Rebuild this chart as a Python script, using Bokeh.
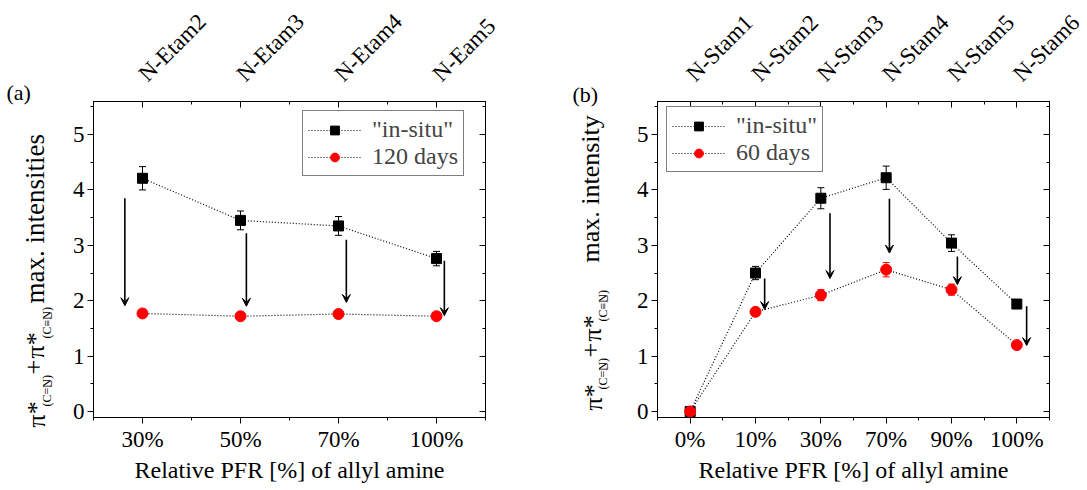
import numpy as np
from bokeh.plotting import figure
from bokeh.models import (Range1d, LinearAxis, FixedTicker, Whisker, TeeHead, Arrow, VeeHead,
                          Legend, LegendItem, ColumnDataSource)
from bokeh.core.properties import value
from bokeh.layouts import row, column
from bokeh.embed import file_html
from bokeh.resources import INLINE

FONT = "Liberation Serif"

# ---------------- Panel (a) data ----------------
cats_a = ["30%", "50%", "70%", "100%"]
samples_a = ["N-Etam2", "N-Etam3", "N-Etam4", "N-Eam5"]
insitu_a = [4.21, 3.45, 3.35, 2.76]
insitu_err_a = [0.21, 0.17, 0.17, 0.13]
aged_a = [1.77, 1.72, 1.76, 1.72]
aged_err_a = [0.05, 0.04, 0.05, 0.05]
aged_label_a = "120 days"
arrow_dx_a = [-0.18, 0.06, 0.08, 0.08]
arrow_top_a = [3.85, 3.22, 3.10, 2.72]
arrow_tip_a = [1.91, 1.90, 1.97, 1.73]

# ---------------- Panel (b) data ----------------
cats_b = ["0%", "10%", "30%", "70%", "90%", "100%"]
samples_b = ["N-Stam1", "N-Stam2", "N-Stam3", "N-Stam4", "N-Stam5", "N-Stam6"]
insitu_b = [0.0, 2.50, 3.85, 4.22, 3.04, 1.94]
insitu_err_b = [0.0, 0.12, 0.19, 0.21, 0.15, 0.07]
aged_b = [0.0, 1.80, 2.10, 2.56, 2.20, 1.20]
aged_err_b = [0.0, 0.05, 0.10, 0.13, 0.10, 0.05]
aged_label_b = "60 days"
arrow_idx_b = [1, 2, 3, 4, 5]
arrow_dx_b = [0.14, 0.14, 0.05, 0.09, 0.15]
arrow_top_b = [2.40, 3.58, 3.84, 2.80, 1.90]
arrow_tip_b = [1.84, 2.40, 2.86, 2.29, 1.19]

y_ticks = [0, 1, 2, 3, 4, 5]
x_title = "Relative PFR [%] of allyl amine"

H = 490          # page height
TOP_H = 91       # height of strip holding the rotated sample names
FRAME_W, FRAME_H = 392, 316
MAIN_TOP, MAIN_BOTTOM = 10, 73


def blank_fig(w, h, xr, yr):
    f = figure(width=w, height=h, x_range=xr, y_range=yr, output_backend="svg",
               toolbar_location=None, x_axis_location=None, y_axis_location=None,
               min_border_left=0, min_border_right=0, min_border_top=0, min_border_bottom=0)
    f.frame_align = False
    f.xgrid.visible = False
    f.ygrid.visible = False
    f.outline_line_color = None
    f.background_fill_color = "white"
    f.border_fill_color = "white"
    return f


def make_main(cats, insitu, insitu_err, aged, aged_err, aged_label,
              arrow_x, arrow_top, arrow_tip, border_left, border_right, legend_loc):
    n = len(cats)
    xs = list(range(n))
    p = figure(frame_width=FRAME_W, frame_height=FRAME_H,
               x_range=Range1d(-0.5, n - 0.5), y_range=Range1d(-0.108, 5.596),
               output_backend="svg", toolbar_location=None,
               min_border_left=border_left, min_border_right=border_right,
               min_border_top=MAIN_TOP, min_border_bottom=MAIN_BOTTOM)
    p.frame_align = False
    p.xgrid.visible = False
    p.ygrid.visible = False
    p.outline_line_color = "black"
    p.outline_line_width = 1
    p.background_fill_color = "white"
    p.border_fill_color = "white"

    xt = FixedTicker(ticks=xs, minor_ticks=[i + 0.5 for i in range(-1, n)])
    yt = FixedTicker(ticks=y_ticks, minor_ticks=[i + 0.5 for i in range(-1, 6)])

    bx = p.xaxis[0]
    bx.ticker = xt
    bx.major_label_overrides = {i: c for i, c in enumerate(cats)}
    by = p.yaxis[0]
    by.ticker = yt
    for ax in (bx, by):
        ax.axis_line_color = "black"
        ax.major_tick_line_color = "black"
        ax.minor_tick_line_color = "black"
        ax.major_tick_out = 6
        ax.major_tick_in = 0
        ax.minor_tick_out = 3
        ax.minor_tick_in = 0
        ax.major_label_text_font = FONT
        ax.major_label_text_font_size = "23px"
        ax.major_label_text_color = "black"
        ax.major_label_standoff = 3
    bx.axis_label = x_title
    bx.axis_label_text_font = FONT
    bx.axis_label_text_font_size = "24px"
    bx.axis_label_text_font_style = "normal"
    bx.axis_label_text_color = "black"
    bx.axis_label_standoff = 2

    top = LinearAxis(ticker=xt, major_label_text_font_size="0px")
    right = LinearAxis(ticker=yt, major_label_text_font_size="0px")
    for ax in (top, right):
        ax.axis_line_color = "black"
        ax.major_tick_out = 0
        ax.major_tick_in = 6
        ax.minor_tick_out = 0
        ax.minor_tick_in = 3
        ax.major_label_standoff = 0
    p.add_layout(top, "above")
    p.add_layout(right, "right")

    l1 = p.line(xs, insitu, line_color="black", line_dash="1 2", line_width=1.2)
    e1 = ColumnDataSource(dict(x=xs, up=[v + e for v, e in zip(insitu, insitu_err)],
                               lo=[v - e for v, e in zip(insitu, insitu_err)]))
    p.add_layout(Whisker(source=e1, base="x", upper="up", lower="lo", line_color="black",
                         upper_head=TeeHead(size=7, line_color="black"),
                         lower_head=TeeHead(size=7, line_color="black")))
    m1 = p.scatter(xs, insitu, marker="square", size=10, fill_color="black", line_color="black")

    l2 = p.line(xs, aged, line_color="black", line_dash="1 2", line_width=1.2)
    e2 = ColumnDataSource(dict(x=xs, up=[v + e for v, e in zip(aged, aged_err)],
                               lo=[v - e for v, e in zip(aged, aged_err)]))
    m2 = p.scatter(xs, aged, marker="circle", size=11, fill_color="red", line_color="red")
    p.add_layout(Whisker(source=e2, base="x", upper="up", lower="lo", line_color="red",
                         upper_head=TeeHead(size=7, line_color="red"),
                         lower_head=TeeHead(size=7, line_color="red")))

    asrc = ColumnDataSource(dict(x=arrow_x, y0=arrow_top, y1=arrow_tip))
    p.add_layout(Arrow(source=asrc, x_start="x", y_start="y0", x_end="x", y_end="y1",
                       line_color="black", line_width=1.6,
                       end=VeeHead(size=8, fill_color="black", line_color="black", line_width=1)))

    legend = Legend(items=[LegendItem(label='"in-situ"', renderers=[l1, m1]),
                           LegendItem(label=aged_label, renderers=[l2, m2])],
                    location=legend_loc, margin=0, padding=5, spacing=0,
                    glyph_width=53, glyph_height=22, label_height=22, label_standoff=11,
                    label_text_font=FONT, label_text_font_size="24px",
                    border_line_color="black", border_line_width=1,
                    background_fill_color="white", background_fill_alpha=1)
    p.add_layout(legend)
    return p


def make_top(samples, border_left, border_right, dx_px, base_y):
    """Strip above a panel holding the rotated sample names, sharing the panel's x scale."""
    n = len(samples)
    ppu = FRAME_W / n
    xr = Range1d(-0.5 - border_left / ppu, n - 0.5 + border_right / ppu)
    f = blank_fig(border_left + FRAME_W + border_right, TOP_H, xr, Range1d(0, TOP_H))
    src = ColumnDataSource(dict(x=list(range(n)), y=[TOP_H - base_y] * n, t=samples))
    f.text(x="x", y="y", text="t", source=src, angle=np.pi / 4, x_offset=dx_px,
           text_font=value(FONT), text_font_size="23px", text_color="black",
           text_align="left", text_baseline="alphabetic")
    return f


def make_ylab(w, letter, letter_xy, pieces):
    f = blank_fig(w, H, Range1d(0, w), Range1d(0, H))
    f.text(x=[letter_xy[0]], y=[H - letter_xy[1]], text=[letter], text_font=value(FONT),
           text_font_size="22px", text_color="black", text_align="left",
           text_baseline="alphabetic")
    src = ColumnDataSource(dict(x=[p[2] for p in pieces], y=[H - p[1] for p in pieces],
                                t=[p[0] for p in pieces], fs=[f"{p[3]}px" for p in pieces]))
    f.text(x="x", y="y", text="t", source=src, angle=np.pi / 2, text_font=value(FONT),
           text_font_size="fs", text_color="black", text_align="left",
           text_baseline="alphabetic")
    return f


sub1 = "(C=N\u0332)"
sub2 = "(C\u2261N\u0332)"

# (text, canvas y where text starts, x inside strip, font px)
pieces_a = [("\u03c0*", 427, 36, 26), (sub1, 406, 46, 12), ("+", 374, 33, 26),
            ("\u03c0*", 358, 35, 26), (sub2, 338, 46, 12), ("max. intensities", 303, 34, 27)]
pieces_b = [("\u03c0*", 410, 53, 26), (sub1, 389, 62, 12), ("+", 357, 50, 26),
            ("\u03c0*", 341, 52, 26), (sub2, 321, 62, 12), ("max. intensity", 262, 50, 26)]

BL_A, BR_A, YW_A = 37, 55, 56
BL_B, BR_B, YW_B = 47, 38, 70

main_a = make_main(cats_a, insitu_a, insitu_err_a, aged_a, aged_err_a, aged_label_a,
                   [i + d for i, d in enumerate(arrow_dx_a)], arrow_top_a, arrow_tip_a,
                   BL_A, BR_A, (209, 241))
main_b = make_main(cats_b, insitu_b, insitu_err_b, aged_b, aged_err_b, aged_label_b,
                   [i + d for i, d in zip(arrow_idx_b, arrow_dx_b)], arrow_top_b, arrow_tip_b,
                   BL_B, BR_B, (9, 245))
top_a = make_top(samples_a, BL_A, BR_A, 0, 77)
top_b = make_top(samples_b, BL_B, BR_B, 0, 77)
ylab_a = make_ylab(YW_A, "(a)", (6, 92), pieces_a)
ylab_b = make_ylab(YW_B, "(b)", (32, 94), pieces_b)

layout = row(ylab_a, column(top_a, main_a), ylab_b, column(top_b, main_b))
open("out.html", "w").write(file_html(layout, INLINE))
